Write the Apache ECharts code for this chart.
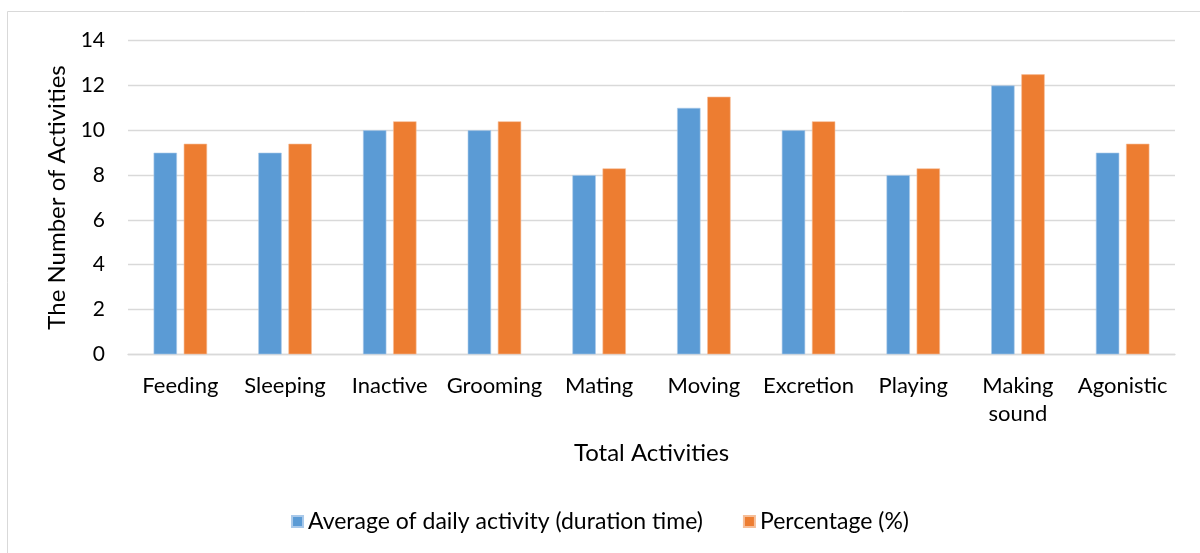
<!DOCTYPE html>
<html><head><meta charset="utf-8">
<script src="https://cdn.jsdelivr.net/npm/echarts@6/dist/echarts.min.js"></script>
<style>html,body{margin:0;padding:0;background:#fff}#c{width:1200px;height:553px}</style>
</head><body><div id="c"></div>
<script>
const categories = ['Feeding','Sleeping','Inactive','Grooming','Mating','Moving','Excretion','Playing','Making\nsound','Agonistic'];
const averageDaily = [9, 9, 10, 10, 8, 11, 10, 8, 12, 9];
const percentage = [9.4, 9.4, 10.4, 10.4, 8.3, 11.5, 10.4, 8.3, 12.5, 9.4];
const seriesNames = ['Average of daily activity (duration time)', 'Percentage (%)'];
const yTicks = [0, 14, 2];
const FONT = 'Lato, "Open Sans", sans-serif';
const chart = echarts.init(document.getElementById('c'), null, {renderer:'canvas'});
chart.setOption({
  animation: false,
  backgroundColor: '#fff',
  textStyle: {fontFamily: FONT},
  graphic: [{type:'rect', shape:{x:7.5, y:11.5, width:1200, height:600}, style:{fill:'none', stroke:'#d9d9d9', lineWidth:1}, silent:true, z:-10}],
  grid: {left:128, right:25, top:40.7, bottom:198.7, containLabel:false},
  legend: {
    bottom: 15, left: 'center', itemWidth: 11, itemHeight: 11, itemGap: 40, icon: 'rect',
    textStyle: {fontSize: 23, color: '#000', fontFamily: FONT},
    data: seriesNames
  },
  xAxis: {
    type: 'category', data: categories,
    axisLine: {lineStyle:{color:'#d9d9d9', width:1.3}},
    axisTick: {show:false},
    axisLabel: {fontSize:22, color:'#000', margin:18, interval:0, lineHeight:28, fontFamily: FONT},
    name: 'Total Activities', nameLocation: 'middle', nameGap: 87,
    nameTextStyle: {fontSize:24, color:'#000', fontFamily: FONT}
  },
  yAxis: {
    type: 'value', min: yTicks[0], max: yTicks[1], interval: yTicks[2],
    axisLine: {show:false}, axisTick: {show:false},
    splitLine: {lineStyle:{color:'#d9d9d9', width:1.3}},
    axisLabel: {fontSize:21, color:'#000', margin:23, fontFamily: FONT},
    name: 'The Number of Activities', nameLocation: 'middle', nameGap: 56,
    nameTextStyle: {fontSize:24, color:'#000', fontFamily: FONT}
  },
  series: [
    {name: seriesNames[0], type:'bar', data: averageDaily, barWidth:'22.3%', barGap:'29%',
     itemStyle:{color:'#5b9bd5', borderColor:'#a9c9ea', borderWidth:0.6}},
    {name: seriesNames[1], type:'bar', data: percentage, barWidth:'22.3%', barGap:'29%',
     itemStyle:{color:'#ed7d31', borderColor:'#f6be98', borderWidth:0.6}}
  ]
});
</script></body></html>
